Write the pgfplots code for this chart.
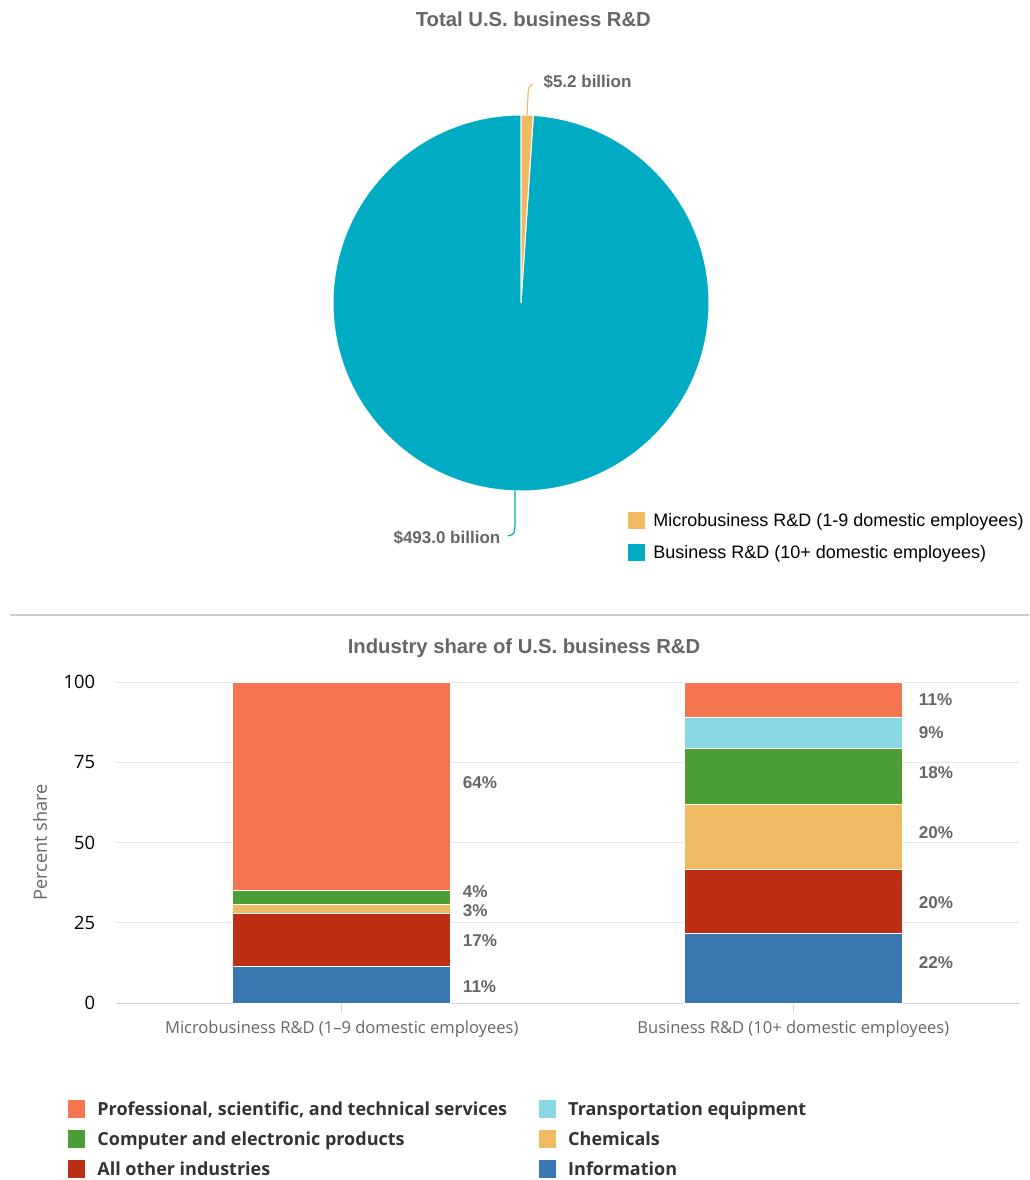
\documentclass[border=0pt]{standalone}
\usepackage{fontspec}
\setmainfont{Open Sans}
\newfontfamily\robo{Liberation Sans}
\usepackage{pgfplots}
\usepackage{pgfplotstable}
\pgfplotsset{compat=1.18}

\definecolor{cprof}{HTML}{F4754F}
\definecolor{ctrans}{HTML}{8AD8E3}
\definecolor{ccomp}{HTML}{4C9E37}
\definecolor{cchem}{HTML}{F0BA63}
\definecolor{cother}{HTML}{BC2F14}
\definecolor{cinfo}{HTML}{3A76AF}
\definecolor{cteal}{HTML}{00ABC4}
\definecolor{titlegray}{HTML}{666666}
\definecolor{gridgray}{HTML}{E6E6E6}
\definecolor{axisblue}{HTML}{CCD6EB}
\definecolor{sepgray}{HTML}{CCCCCC}
\definecolor{dark}{HTML}{333333}

% pie: total business R&D, billions
\pgfplotstableread{
label value
micro 5.2
business 493.0
}\pietable

% industry shares, percent (stacked bottom to top)
\pgfplotstableread{
pos info other chem comp trans prof
0 11.5 16.5 2.8 4.4 0.0 64.8
1 21.8 19.9 20.0 17.7 9.4 11.2
}\industrytable

\pgfplotstablegetelem{0}{value}\of\pietable \let\vmicro\pgfplotsretval
\pgfplotstablegetelem{1}{value}\of\pietable \let\vbiz\pgfplotsretval
\pgfmathsetmacro\amicro{360*\vmicro/(\vmicro+\vbiz)}
\pgfmathsetmacro\aend{90-\amicro}

\tikzset{vlab/.style={anchor=west, font=\robo\bfseries\fontsize{12.8pt}{15pt}\selectfont, text=titlegray}}

\begin{document}
\begin{tikzpicture}
\path[use as bounding box] (0,0) rectangle (771.75pt,-885pt);

\node[font=\robo\bfseries\fontsize{15.2pt}{18pt}\selectfont, text=titlegray]
  at (400pt,-14.25pt) {Total U.S. business R\&D};
\node[font=\robo\bfseries\fontsize{15.2pt}{18pt}\selectfont, text=titlegray]
  at (393pt,-486pt) {Industry share of U.S. business R\&D};
\draw[sepgray, line width=1.5pt] (7.5pt,-461.25pt) -- (771.75pt,-461.25pt);

\begin{axis}[
  name=pie,
  at={(390.75pt,-227.25pt)}, anchor=center,
  width=282pt, height=282pt, scale only axis,
  xmin=-1, xmax=1, ymin=-1, ymax=1,
  hide axis, clip=false,
  legend image code/.code={\fill[#1, draw=none] (0pt,-6.4pt) rectangle (12.75pt,6.4pt);},
  legend style={
    at={(0.785,-0.056)}, anchor=north west,
    draw=none, fill=none, inner sep=0pt, row sep=11.2pt, column sep=6pt,
    font=\robo\fontsize{13.5pt}{16pt}\selectfont, text=black,
    nodes={inner sep=0pt}},
  legend cell align=left,
]
\fill[cteal, draw=white, line width=0.75pt] (axis cs:0,0) -- ++(\aend:141pt)
  arc[start angle=\aend, end angle=-270, radius=141pt] -- cycle;
\fill[cchem, draw=white, line width=0.75pt] (axis cs:0,0) -- ++(90:141pt)
  arc[start angle=90, end angle=\aend, radius=141pt] -- cycle;
% leader lines
\draw[cchem, line width=0.9pt] (axis cs:0.032,1.0) -- (axis cs:0.037,1.101)
  .. controls (axis cs:0.04,1.15) .. (axis cs:0.064,1.165);
\node[anchor=west, font=\robo\bfseries\fontsize{12.75pt}{15pt}\selectfont, text=titlegray]
  at (axis cs:0.095,1.177) {\$5.2 billion};
\draw[cteal, line width=0.9pt] (axis cs:-0.032,-1.0) -- (axis cs:-0.032,-1.181)
  .. controls (axis cs:-0.035,-1.23) .. (axis cs:-0.069,-1.239);
\node[anchor=east, font=\robo\bfseries\fontsize{12.75pt}{15pt}\selectfont, text=titlegray]
  at (axis cs:-0.085,-1.249) {\$493.0 billion};
\addlegendimage{fill=cchem}
\addlegendentry{Microbusiness R\&D (1-9 domestic employees)}
\addlegendimage{fill=cteal}
\addlegendentry{Business R\&D (10+ domestic employees)}
\end{axis}

\begin{axis}[
  name=bars,
  at={(87pt,-752.25pt)}, anchor=south west,
  width=677.25pt, height=240.75pt, scale only axis,
  xmin=-0.5, xmax=1.5, ymin=0, ymax=100,
  ybar stacked, bar width=163.5pt,
  xtick={0,1},
  xticklabels={Microbusiness R\&D (1--9 domestic employees), Business R\&D (10+ domestic employees)},
  ytick={0,25,50,75,100},
  ymajorgrids, grid style={gridgray, line width=0.75pt},
  axis x line=bottom, axis y line=left, axis line style={-},
  y axis line style={draw=none},
  x axis line style={axisblue, line width=0.75pt},
  ytick style={draw=none},
  xtick style={axisblue, line width=0.75pt},
  tick align=outside, major tick length=7.5pt,
  /pgf/number format/assume math mode=true,
  yticklabel style={font=\fontsize{13.8pt}{16pt}\selectfont, text=black, inner sep=0pt, xshift=-8pt},
  xticklabel style={font=\fontsize{12.4pt}{14pt}\selectfont, text=titlegray, inner sep=0pt, yshift=-5.5pt},
  ylabel={Percent share},
  every axis y label/.style={at={(axis description cs:0,0.5)}, xshift=-57pt,
    rotate=90, anchor=center, font=\fontsize{13.6pt}{16pt}\selectfont, text=titlegray},
  clip=false,
]
\addplot[fill=cinfo, draw=white, line width=0.75pt] table[y=info] {\industrytable};
\addplot[fill=cother, draw=white, line width=0.75pt] table[y=other] {\industrytable};
\addplot[fill=cchem, draw=white, line width=0.75pt] table[y=chem] {\industrytable};
\addplot[fill=ccomp, draw=white, line width=0.75pt] table[y=comp] {\industrytable};
\addplot[fill=ctrans, draw=white, line width=0.75pt] table[y=trans] {\industrytable};
\addplot[fill=cprof, draw=white, line width=0.75pt] table[y=prof] {\industrytable};

% value labels
\node[vlab] at (axis cs:0.258,68.8) {64\%};
\node[vlab] at (axis cs:0.258,34.6) {4\%};
\node[vlab] at (axis cs:0.258,28.7) {3\%};
\node[vlab] at (axis cs:0.258,19.3) {17\%};
\node[vlab] at (axis cs:0.258,5.0) {11\%};
\node[vlab] at (axis cs:1.268,94.4) {11\%};
\node[vlab] at (axis cs:1.268,84.1) {9\%};
\node[vlab] at (axis cs:1.268,71.7) {18\%};
\node[vlab] at (axis cs:1.268,53.0) {20\%};
\node[vlab] at (axis cs:1.268,31.2) {20\%};
\node[vlab] at (axis cs:1.268,12.5) {22\%};
\end{axis}

% legend of the industry chart, in a hidden axis of the same size
\begin{axis}[
  at={(87pt,-752.25pt)}, anchor=south west,
  width=677.25pt, height=240.75pt, scale only axis,
  xmin=0, xmax=1, ymin=0, ymax=1, hide axis,
  legend image code/.code={\fill[#1, draw=none] (0pt,-6.75pt) rectangle (12.75pt,6.75pt);},
  legend columns=2,
  legend style={
    at={(-0.053,-0.302)}, anchor=north west,
    draw=none, fill=none, inner sep=0pt, row sep=9.1pt,
    font=\fontsize{13.5pt}{16pt}\selectfont\bfseries, text=dark,
    nodes={inner sep=0pt},
    /tikz/every odd column/.append style={column sep=9pt},
    /tikz/every even column/.append style={column sep=24pt}},
  legend cell align=left,
]
\addlegendimage{fill=cprof}
\addlegendentry{Professional, scientific, and technical services}
\addlegendimage{fill=ctrans}
\addlegendentry{Transportation equipment}
\addlegendimage{fill=ccomp}
\addlegendentry{Computer and electronic products}
\addlegendimage{fill=cchem}
\addlegendentry{Chemicals}
\addlegendimage{fill=cother}
\addlegendentry{All other industries}
\addlegendimage{fill=cinfo}
\addlegendentry{Information}
\end{axis}
\end{tikzpicture}
\end{document}
